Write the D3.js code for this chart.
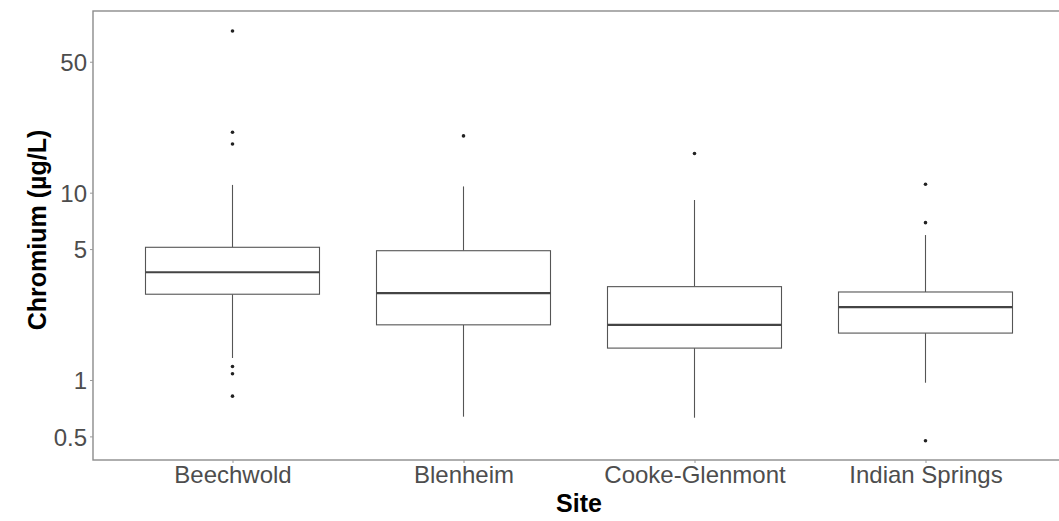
<!DOCTYPE html>
<html>
<head>
<meta charset="utf-8">
<script src="https://cdn.jsdelivr.net/npm/d3@7"></script>
<style>
  html, body { margin: 0; padding: 0; background: #fff; }
  svg { display: block; }
</style>
</head>
<body>
<svg id="chart" width="1059" height="521"></svg>
<script>
const sites = ["Beechwold", "Blenheim", "Cooke-Glenmont", "Indian Springs"];
const whiskerLow = [1.31, 0.637, 0.629, 0.967];
const q1 = [2.87, 1.97, 1.48, 1.78];
const median = [3.76, 2.91, 1.97, 2.45];
const q3 = [5.11, 4.90, 3.15, 2.95];
const whiskerHigh = [11.0, 10.8, 9.14, 5.94];
const outliers = [
  [73, 21.0, 18.2, 1.18, 1.08, 0.82],
  [20.1],
  [16.2],
  [11.1, 6.92, 0.474]
];
const yTicks = [0.5, 1, 5, 10, 50];
const yTickLabels = ["0.5", "1", "5", "10", "50"];

(function () {
const svg = d3.select("#chart");
const pLeft = 93, pTop = 11, pBottom = 460, pRight = 1075;

const y = d3.scaleLog().domain([0.374, 93.3]).range([pBottom, pTop]);
const x = d3.scalePoint().domain(sites).range([232.5, 925.5]);
const boxW = 174;

// panel border
svg.append("rect")
  .attr("x", pLeft).attr("y", pTop)
  .attr("width", pRight - pLeft).attr("height", pBottom - pTop)
  .attr("fill", "none").attr("stroke", "#8c8c8c").attr("stroke-width", 1.4);

// y axis
const yAxis = d3.axisLeft(y).tickValues(yTicks)
  .tickFormat((d, i) => yTickLabels[i]).tickSize(3).tickPadding(3);
const gy = svg.append("g").attr("transform", `translate(${pLeft},0)`).call(yAxis);
gy.select(".domain").remove();
gy.selectAll(".tick line").attr("stroke", "#999");
gy.selectAll(".tick text")
  .attr("fill", "#4d4d4d")
  .style("font-family", "Liberation Sans, Arial, sans-serif")
  .style("font-size", "24px")
  .attr("dy", "0.36em");

// x axis
const xAxis = d3.axisBottom(x).tickSize(3).tickPadding(3);
const gx = svg.append("g").attr("transform", `translate(0,${pBottom})`).call(xAxis);
gx.select(".domain").remove();
gx.selectAll(".tick line").attr("stroke", "#999");
gx.selectAll(".tick text")
  .attr("fill", "#4d4d4d")
  .style("font-family", "Liberation Sans, Arial, sans-serif")
  .style("font-size", "24px")
  .attr("dy", "0.72em");

// boxes
const data = sites.map((s, i) => ({
  site: s, lo: whiskerLow[i], q1: q1[i], med: median[i], q3: q3[i],
  hi: whiskerHigh[i], out: outliers[i]
}));

const g = svg.append("g");
const lineCol = "#555";
data.forEach(d => {
  const cx = x(d.site);
  g.append("line").attr("x1", cx).attr("x2", cx)
    .attr("y1", y(d.q3)).attr("y2", y(d.hi))
    .attr("stroke", lineCol).attr("stroke-width", 1.1);
  g.append("line").attr("x1", cx).attr("x2", cx)
    .attr("y1", y(d.q1)).attr("y2", y(d.lo))
    .attr("stroke", lineCol).attr("stroke-width", 1.1);
  g.append("rect")
    .attr("x", cx - boxW / 2).attr("width", boxW)
    .attr("y", y(d.q3)).attr("height", y(d.q1) - y(d.q3))
    .attr("fill", "#fff").attr("stroke", lineCol).attr("stroke-width", 1.1);
  g.append("line")
    .attr("x1", cx - boxW / 2).attr("x2", cx + boxW / 2)
    .attr("y1", y(d.med)).attr("y2", y(d.med))
    .attr("stroke", "#444").attr("stroke-width", 2.2);
  g.selectAll(null).data(d.out).enter().append("circle")
    .attr("cx", cx).attr("cy", v => y(v)).attr("r", 1.8)
    .attr("fill", "#222");
});

// axis titles
svg.append("text")
  .attr("x", 579).attr("y", 512)
  .attr("text-anchor", "middle")
  .style("font-family", "Liberation Sans, Arial, sans-serif")
  .style("font-size", "25px").style("font-weight", "bold")
  .attr("fill", "#000")
  .text("Site");

svg.append("text")
  .attr("transform", "translate(46,230) rotate(-90)")
  .attr("text-anchor", "middle")
  .style("font-family", "Liberation Sans, Arial, sans-serif")
  .style("font-size", "25px").style("font-weight", "bold")
  .attr("fill", "#000")
  .text("Chromium (µg/L)");
})();
</script>
</body>
</html>
